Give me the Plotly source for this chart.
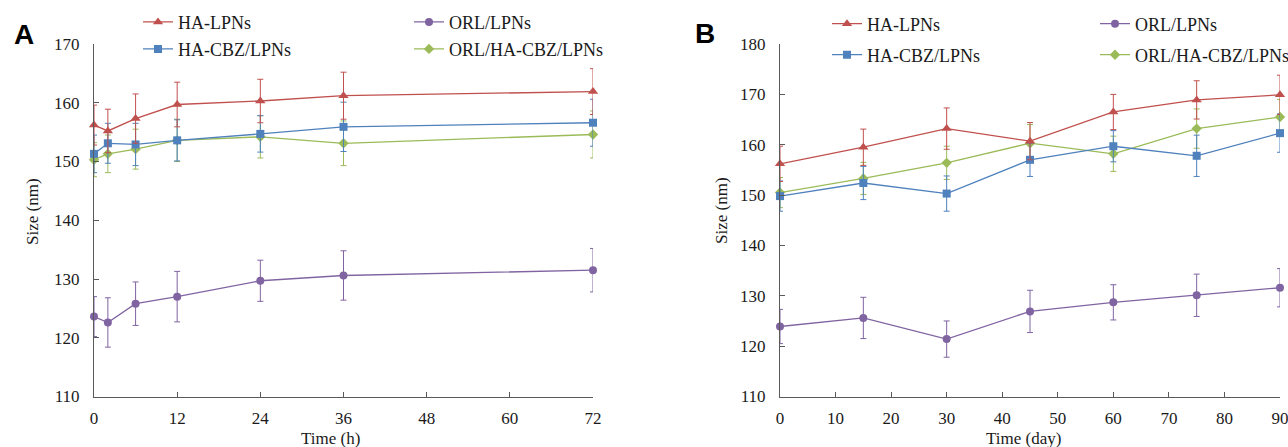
import plotly.graph_objects as go

# ---- data ----
hours = [0, 2, 6, 12, 24, 36, 72]
days = [0, 15, 30, 45, 60, 75, 90]

series_names = ["HA-LPNs", "ORL/LPNs", "HA-CBZ/LPNs", "ORL/HA-CBZ/LPNs"]

a_ha_lpns = [156.2, 155.2, 157.3, 159.7, 160.3, 161.2, 161.9]
a_ha_lpns_sd = [3.4, 3.7, 4.2, 3.8, 3.7, 4.0, 3.9]
a_orl_lpns = [123.6, 122.6, 125.8, 127.0, 129.7, 130.6, 131.5]
a_orl_lpns_sd = [3.4, 4.2, 3.7, 4.3, 3.5, 4.2, 3.7]
a_ha_cbz = [151.3, 153.1, 152.9, 153.6, 154.7, 155.9, 156.6]
a_ha_cbz_sd = [3.2, 3.4, 3.6, 3.5, 3.1, 4.2, 4.0]
a_orl_ha_cbz = [150.3, 151.3, 152.1, 153.6, 154.2, 153.1, 154.6]
a_orl_ha_cbz_sd = [2.9, 3.2, 3.4, 3.6, 3.6, 3.8, 4.0]

b_ha_lpns = [156.2, 159.5, 163.2, 160.7, 166.5, 168.9, 169.9]
b_ha_lpns_sd = [3.5, 3.6, 4.1, 3.7, 3.5, 3.8, 3.9]
b_orl_lpns = [123.9, 125.6, 121.4, 126.9, 128.7, 130.1, 131.6]
b_orl_lpns_sd = [3.4, 4.1, 3.6, 4.2, 3.5, 4.2, 3.8]
b_ha_cbz = [149.8, 152.4, 150.3, 157.0, 159.7, 157.8, 162.3]
b_ha_cbz_sd = [3.0, 3.3, 3.5, 3.3, 3.1, 4.1, 3.8]
b_orl_ha_cbz = [150.5, 153.3, 156.4, 160.3, 158.2, 163.2, 165.5]
b_orl_ha_cbz_sd = [3.0, 3.2, 3.3, 3.7, 3.5, 3.9, 3.5]

a_xticks = [0, 12, 24, 36, 48, 60, 72]
b_xticks = [0, 10, 20, 30, 40, 50, 60, 70, 80, 90]
a_yticks = [110, 120, 130, 140, 150, 160, 170]
b_yticks = [110, 120, 130, 140, 150, 160, 170, 180]

# ---- styling ----
W, H = 1288, 447
SERIF = "Liberation Serif, Times New Roman, serif"
AXIS_COLOR = "#5a5a5a"
colors = ["#C0504D", "#8064A2", "#4F81BD", "#9BBB59"]
symbols = ["triangle-up", "circle", "square", "diamond"]
msizes = [9, 8, 8, 8]


def px_x(p):
    return p / W


def px_y(p):
    return 1 - p / H


fig = go.Figure()

panel_data = [
    ("x", "y", hours, [a_ha_lpns, a_orl_lpns, a_ha_cbz, a_orl_ha_cbz],
     [a_ha_lpns_sd, a_orl_lpns_sd, a_ha_cbz_sd, a_orl_ha_cbz_sd]),
    ("x2", "y2", days, [b_ha_lpns, b_orl_lpns, b_ha_cbz, b_orl_ha_cbz],
     [b_ha_lpns_sd, b_orl_lpns_sd, b_ha_cbz_sd, b_orl_ha_cbz_sd]),
]

# legend anchor positions (left px, centre px) per panel, per series
legend_pos = [
    [(138, 22.2), (409, 22.2), (138, 49.2), (409, 49.2)],
    [(827, 24), (1095, 24), (827, 55), (1095, 55)],
]

legend_layouts = {}
for p, (xa, ya, xs, ys_list, sd_list) in enumerate(panel_data):
    # draw in an order so red stays on top
    for i in [3, 2, 1, 0]:
        k = p * 4 + i
        lname = "legend" if k == 0 else f"legend{k + 1}"
        fig.add_trace(go.Scatter(
            x=xs, y=ys_list[i], xaxis=xa, yaxis=ya,
            mode="lines+markers", name=series_names[i],
            line=dict(color=colors[i], width=1.3),
            marker=dict(symbol=symbols[i], size=msizes[i], color=colors[i],
                        line=dict(width=0)),
            error_y=dict(type="data", array=sd_list[i], visible=True,
                         color=colors[i], thickness=1, width=3),
            cliponaxis=False,
            legend=lname,
        ))
        lx, ly = legend_pos[p][i]
        legend_layouts[lname] = dict(
            x=px_x(lx), y=px_y(ly),
            xanchor="left", yanchor="middle",
            orientation="v", bgcolor="rgba(0,0,0,0)", borderwidth=0,
            font=dict(family=SERIF, size=18, color="#1a1a1a"),
            itemwidth=30, tracegroupgap=0,
        )

axis_common = dict(
    showline=True, linecolor=AXIS_COLOR, linewidth=1,
    ticks="inside", ticklen=5, tickcolor=AXIS_COLOR, tickwidth=1,
    showgrid=False, zeroline=False, automargin=False,
    ticklabeloverflow="allow",
    tickfont=dict(family=SERIF, size=17, color="#1a1a1a"),
    fixedrange=True,
)

ydom = [px_y(396.5), px_y(44)]

fig.update_layout(
    width=W, height=H, autosize=False,
    margin=dict(l=0, r=0, t=0, b=0, pad=0, autoexpand=False),
    paper_bgcolor="white", plot_bgcolor="white",
    showlegend=True,
    xaxis=dict(domain=[px_x(94), px_x(593)], range=[0, 72],
               tickvals=a_xticks, anchor="y", ticklabelstandoff=6, **axis_common),
    yaxis=dict(domain=ydom, range=[110, 170], tickvals=a_yticks,
               anchor="x", ticklabelstandoff=10, **axis_common),
    xaxis2=dict(domain=[px_x(780), px_x(1280)], range=[0, 90],
                tickvals=b_xticks, anchor="y2", ticklabelstandoff=6, **axis_common),
    yaxis2=dict(domain=ydom, range=[110, 180], tickvals=b_yticks,
                anchor="x2", ticklabelstandoff=10, **axis_common),
    **legend_layouts,
)

title_font = dict(family=SERIF, size=17, color="#1a1a1a")
letter_font = dict(family="Liberation Sans, Arial, sans-serif", size=28, color="black")


def label(text, x, y, font, angle=0):
    return dict(text=text, x=px_x(x), y=px_y(y), xref="paper", yref="paper",
                xanchor="center", yanchor="middle", textangle=angle,
                showarrow=False, font=font)


annotations = [
    label("<b>A</b>", 24, 35, letter_font),
    label("<b>B</b>", 705, 33, letter_font),
    label("Size (nm)", 32, 211, title_font, -90),
    label("Size (nm)", 721, 211, title_font, -90),
    label("Time (h)", 330, 438, title_font),
    label("Time (day)", 1023, 438, title_font),
]
fig.update_layout(annotations=annotations)

fig.write_html("out.html", config={"displayModeBar": False})
